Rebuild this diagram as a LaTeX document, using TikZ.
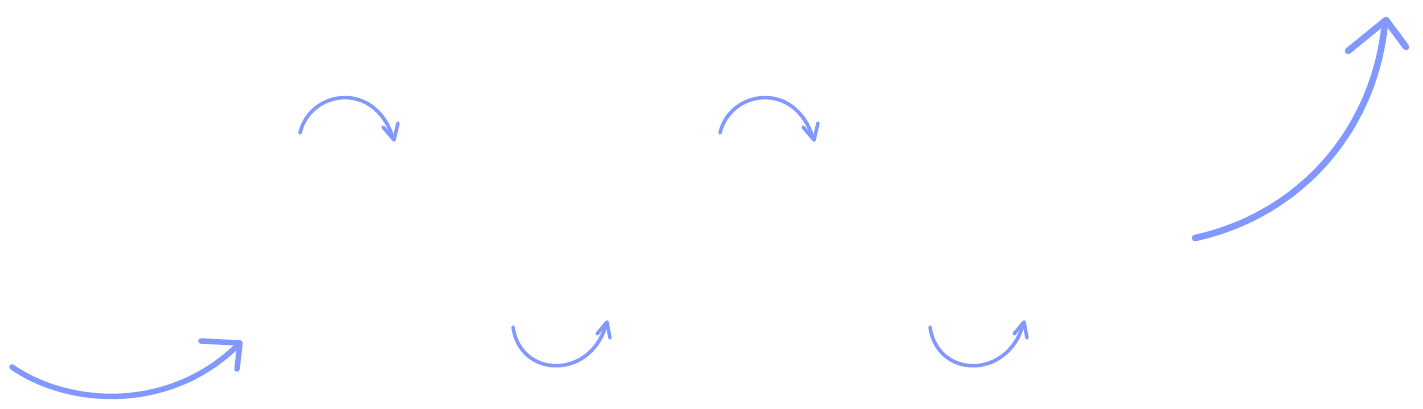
\documentclass[tikz,border=0pt]{standalone}
\definecolor{sketchblue}{RGB}{128,152,255}
\tikzset{
  sketch/.style={draw=sketchblue, line cap=round, line join=round},
  thin sketch/.style={sketch, line width=3.5pt},
  mid sketch/.style={sketch, line width=5.5pt},
  thick sketch/.style={sketch, line width=6.5pt}
}
\begin{document}
\begin{tikzpicture}[x=1pt,y=-1pt]
	\useasboundingbox (0,0) rectangle (1423,409);
	% bottom left
	\draw[mid sketch] (12,367) .. controls (70,407) and (170,412) .. (238,345);
	\draw[mid sketch] (201,341) -- (240,343) -- (237,369);
	% upper small arcs
	\draw[thin sketch] (300,133) .. controls (310,90) and (375,80) .. (393,138);
	\draw[thin sketch] (383,127) -- (394,140) -- (398,123);
	\draw[thin sketch] (720,133) .. controls (730,90) and (795,80) .. (813,138);
	\draw[thin sketch] (803,127) -- (814,140) -- (818,123);
	% lower small arcs
	\draw[thin sketch] (513,327) .. controls (520,378) and (590,380) .. (606,325);
	\draw[thin sketch] (597,334) -- (607,322) -- (610,338);
	\draw[thin sketch] (930,327) .. controls (937,378) and (1007,380) .. (1023,325);
	\draw[thin sketch] (1014,334) -- (1024,322) -- (1027,338);
	% top right
	\draw[thick sketch] (1195,238) .. controls (1300,215) and (1375,130) .. (1385,22);
	\draw[thick sketch] (1348,51) -- (1386,20) -- (1406,47);
\end{tikzpicture}
\end{document}
